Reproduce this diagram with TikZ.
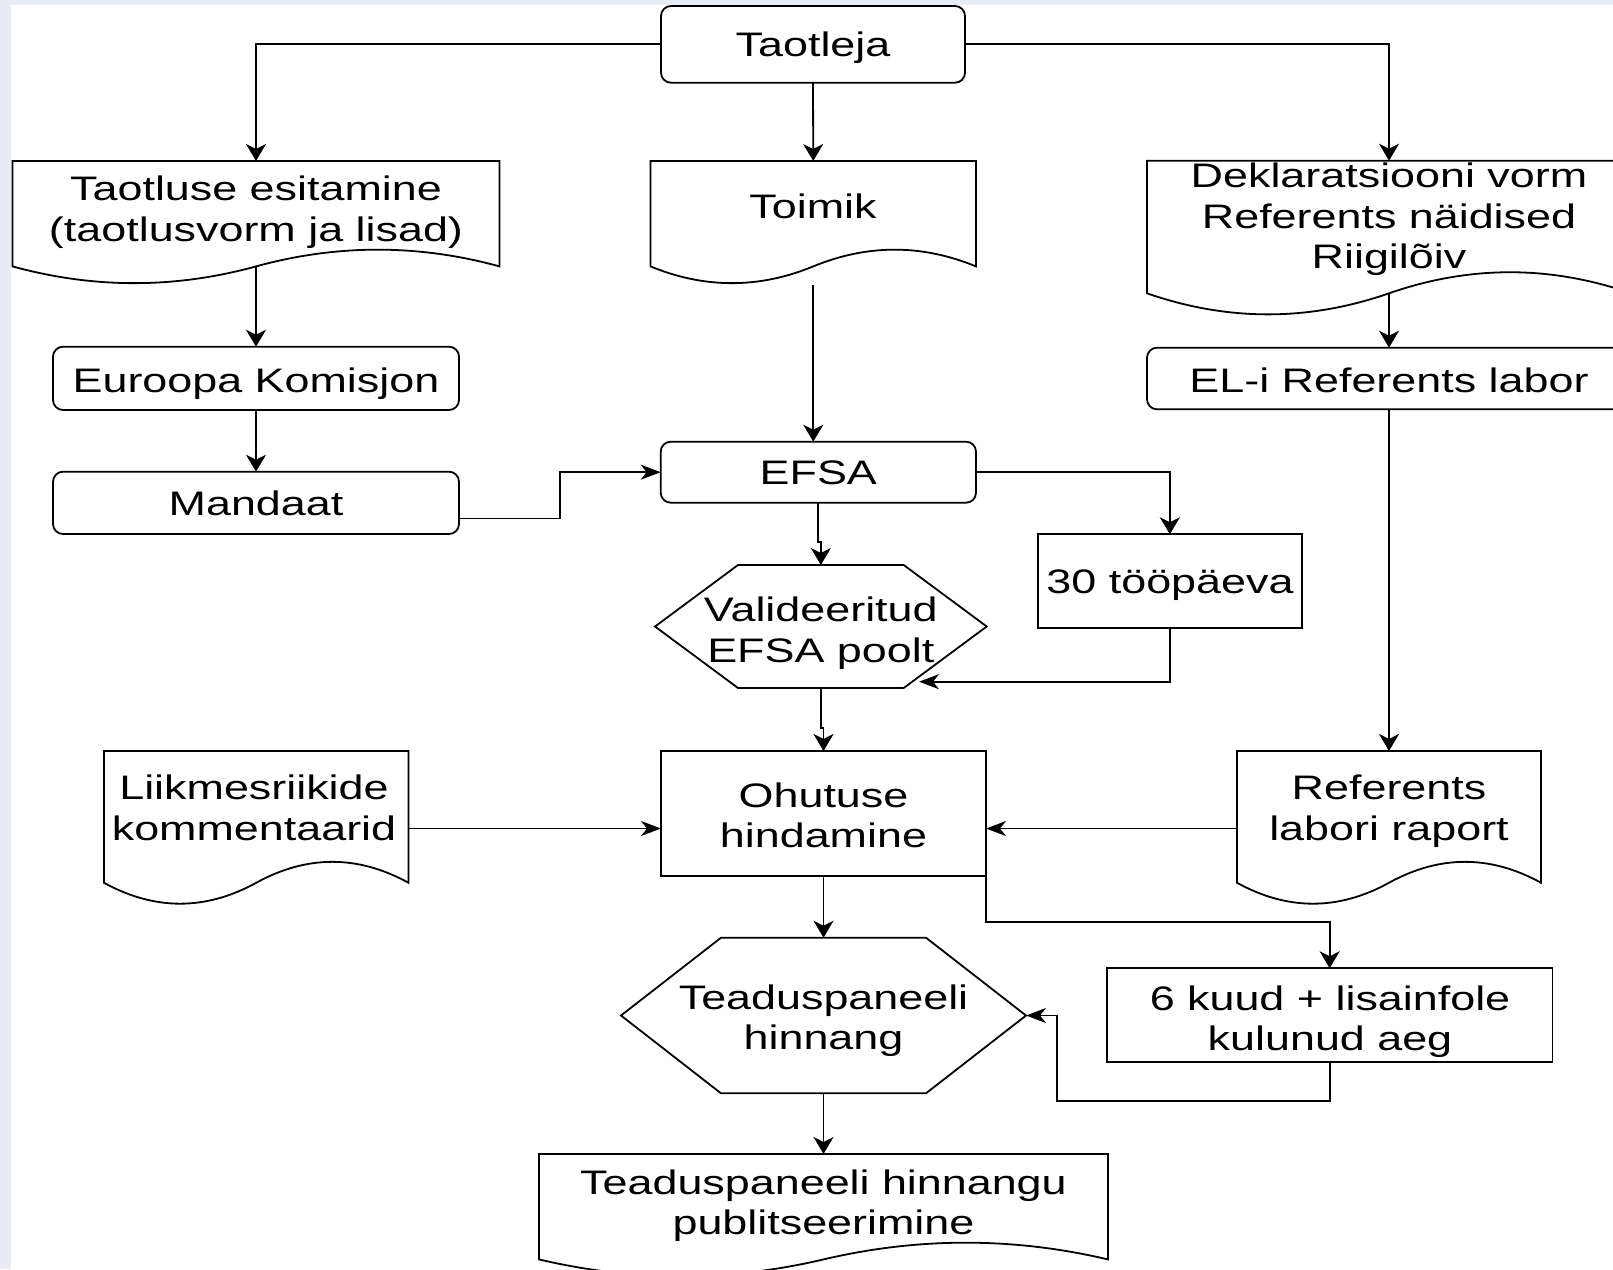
\documentclass[tikz,border=0pt]{standalone}
\usepackage{fontspec}
\setmainfont{Liberation Sans}[FakeStretch=1.32]
\usetikzlibrary{arrows.meta,calc}
\definecolor{bgblue}{HTML}{E8EDF5}
\newcommand\fsz{\fontsize{34}{40.5}\selectfont}

\tikzset{
  shp/.style={draw=black, line width=1.8pt},
  bbox/.style={inner sep=0pt, outer sep=0pt},
  rbox/.style={bbox, shp, rounded corners=10pt},
  sbox/.style={bbox, shp},
  txt/.style={font=\fsz, align=center, inner sep=0pt, text=black},
  conn/.style={draw=black, line width=1.8pt},
  arrv/.style={conn, -{Stealth[length=17pt,width=20pt,inset=5pt]}},
  arrh/.style={conn, -{Stealth[length=20pt,width=15pt,inset=6pt]}},
}

% style, name, x1, y1, x2, y2
\newcommand\boxnode[6]{%
  \node[#1, minimum width={#5-#3}, minimum height={#6-#4}] (#2) at ({(#3+#5)/2},{(#4+#6)/2}) {};}

% name, x1, y1, x2, h
\newcommand\docnode[5]{%
  \node[bbox, minimum width={#4-#2}, minimum height={#5}] (#1) at ({(#2+#4)/2},{#3+#5/2}) {};
  \draw[shp] (#1.north west) -- (#1.north east) -- ++(0,{0.85*#5})
    .. controls ($(#1.north west)+({5*(#4-#2)/6},{0.67*#5})$) and ($(#1.north west)+({2*(#4-#2)/3},{0.67*#5})$) .. ($(#1.north west)+({(#4-#2)/2},{0.85*#5})$)
    .. controls ($(#1.north west)+({(#4-#2)/3},{1.03*#5})$) and ($(#1.north west)+({(#4-#2)/6},{1.03*#5})$) .. ($(#1.north west)+(0,{0.85*#5})$) -- cycle;
  \coordinate (#1w) at ($(#1.north west)+({(#4-#2)/2},{0.85*#5})$);}

% name, x1, y1, x2, y2, inset
\newcommand\hexnode[6]{%
  \node[bbox, minimum width={#4-#2}, minimum height={#5-#3}] (#1) at ({(#2+#4)/2},{(#3+#5)/2}) {};
  \draw[shp] (#1.west) -- ($(#1.north west)+(#6,0)$) -- ($(#1.north east)+(-#6,0)$) -- (#1.east)
    -- ($(#1.south east)+(-#6,0)$) -- ($(#1.south west)+(#6,0)$) -- cycle;}

\begin{document}
\begin{tikzpicture}[x=1pt,y=-1pt]
\useasboundingbox (0,0) rectangle (1613,1269);
\fill[bgblue] (0,0) rectangle (1613,1269);
\fill[white] (11,5) rectangle (1613,1269);

% shapes
\boxnode{rbox}{taot}{661}{6}{965}{82.7}
\docnode{tae}{12.5}{161}{499.5}{124}
\docnode{toim}{650.5}{161}{976}{124}
\docnode{dekl}{1147}{160.7}{1631}{156}
\boxnode{rbox}{ek}{53}{346.7}{459}{410}
\boxnode{rbox}{mand}{53}{471.7}{459}{534}
\boxnode{rbox}{eli}{1147}{347.7}{1631}{409.3}
\boxnode{rbox}{efsa}{660.7}{441.7}{976}{502.7}
\boxnode{sbox}{thirty}{1037.7}{534.3}{1302}{627.7}
\hexnode{valid}{655}{565}{986.7}{688}{83}
\docnode{liik}{104}{751}{408.5}{155}
\boxnode{sbox}{ohut}{661}{751}{986}{875.7}
\docnode{ref}{1237}{751}{1541}{155}
\boxnode{sbox}{six}{1106.8}{968.3}{1552.5}{1062.3}
\hexnode{teadus}{621}{937.7}{1026}{1093.3}{100}
\docnode{pub}{539}{1154}{1108}{124}

% texts
\node[txt] (taott) at (813,48.5) {\strut Taotleja};
\node[txt] (taet) at (256,213) {\strut Taotluse esitamine\\\strut (taotlusvorm ja lisad)};
\node[txt] (toimt) at (813,210.7) {\strut Toimik};
\node[txt] (deklt) at (1389,220) {\strut Deklaratsiooni vorm\\\strut Referents näidised\\\strut Riigilõiv};
\node[txt] (ekt) at (256,384) {\strut Euroopa Komisjon};
\node[txt] (mandt) at (256,507.5) {\strut Mandaat};
\node[txt] (elit) at (1389,384) {\strut EL-i Referents labor};
\node[txt] (efsat) at (818.3,476.7) {\strut EFSA};
\node[txt] (thirtyt) at (1170,585.7) {\strut 30 tööpäeva};
\node[txt] (validt) at (820.8,634) {\strut Valideeritud\\\strut EFSA poolt};
\node[txt] (liikt) at (254,812) {\strut Liikmesriikide\\\strut kommentaarid};
\node[txt] (ohutt) at (823.5,819.5) {\strut Ohutuse\\\strut hindamine};
\node[txt] (reft) at (1389,812) {\strut Referents\\\strut labori raport};
\node[txt] (sixt) at (1330,1022.3) {\strut 6 kuud + lisainfole\\\strut kulunud aeg};
\node[txt] (teadust) at (823.5,1021.5) {\strut Teaduspaneeli\\\strut hinnang};
\node[txt] (pubt) at (823.5,1206.5) {\strut Teaduspaneeli hinnangu\\\strut publitseerimine};

% connectors
\draw[arrv] (taot.west) -| (tae.north);
\draw[arrv] (taot.south) -- (toim.north);
\draw[arrv] (taot.east) -| (dekl.north);
\draw[arrv] (taew) -- (ek.north);
\draw[arrv] (ek.south) -- (mand.north);
\draw[arrh] ($(mand.south east)!0.25!(mand.north east)$) -- ++(101,0) |- (efsa.west);
\draw[arrv] (toim.south) -- (toim.south |- efsa.north);
\draw[arrv] (deklw) -- (eli.north);
\draw[arrv] (efsa.south) -- ++(0,39) -| (valid.north);
\draw[arrv] (efsa.east) -| (thirty.north);
\coordinate (vin) at (919,681.7);
\draw[arrh] (thirty.south) |- (vin);
\draw[arrv] (eli.south) -- (ref.north);
\draw[arrv] (valid.south) -- ++(0,40) -| (ohut.north);
\draw[arrh] (liik.east) -- (liik.east -| ohut.west);
\draw[arrh] (ref.west) -- (ref.west -| ohut.east);
\draw[arrv] (ohut.south) -- (teadus.north);
\draw[arrv] (ohut.south east) -- ++(0,46) -| (six.north);
\draw[arrh] (six.south) -- ++(0,38.4) -| ($(teadus.east)+(30.7,0)$) -- (teadus.east);
\draw[arrv] (teadus.south) -- (pub.north);
\end{tikzpicture}
\end{document}
